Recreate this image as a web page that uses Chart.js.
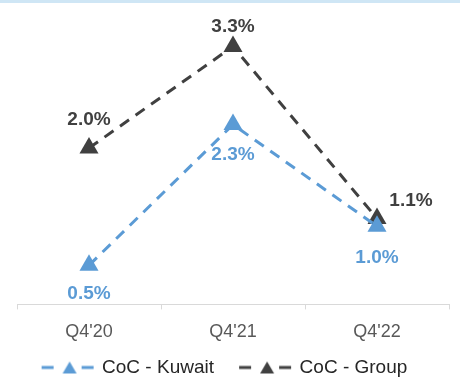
<!DOCTYPE html>
<html>
<head>
<meta charset="utf-8">
<script src="https://cdn.jsdelivr.net/npm/chart.js@4.4.0/dist/chart.umd.min.js"></script>
<style>
  body { margin: 0; background: #fff; overflow: hidden; }
  .wrap { width: 460px; height: 380px; position: relative; overflow: hidden; border-top: 3px solid #cfe6f5; box-sizing: border-box; }
</style>
</head>
<body>
<div class="wrap"><canvas id="myChart" width="460" height="387"></canvas></div>
<script>
// data
const quarters = ["Q4'20", "Q4'21", "Q4'22"];
const cocKuwait = [0.5, 2.3, 1.0];
const cocGroup = [2.0, 3.3, 1.1];

const blue = '#5b9bd5';
const grey = '#404040';
const font = 'Arial, "Liberation Sans", sans-serif';

// legend sample: dashed line with a triangle in the middle
function legendSample(color) {
  const c = document.createElement('canvas');
  c.width = 64; c.height = 14;
  const g = c.getContext('2d');
  g.translate(6, 0);
  g.strokeStyle = color;
  g.lineWidth = 3;
  g.setLineDash([12, 8]);
  g.beginPath(); g.moveTo(1, 7); g.lineTo(58, 7); g.stroke();
  g.clearRect(19, 0, 20, 14);
  g.fillStyle = color;
  g.beginPath(); g.moveTo(29, 1); g.lineTo(36, 13); g.lineTo(22, 13); g.closePath(); g.fill();
  return c;
}

// draws the % labels next to each point
const pointLabels = {
  id: 'pointLabels',
  afterDatasetsDraw(chart, args, opts) {
    const ctx = chart.ctx;
    ctx.save();
    ctx.font = 'bold 19px ' + font;
    ctx.textAlign = 'center';
    ctx.textBaseline = 'middle';
    chart.data.datasets.forEach((ds, i) => {
      const meta = chart.getDatasetMeta(i);
      const offs = opts.offsets[i];
      ctx.fillStyle = ds.borderColor;
      meta.data.forEach((pt, j) => {
        const v = ds.data[j];
        ctx.fillText(v.toFixed(1) + '%', pt.x + offs[j][0], pt.y + offs[j][1]);
      });
    });
    ctx.restore();
  }
};

var ctx = document.getElementById('myChart').getContext('2d');
var chart = new Chart(ctx, {
  type: 'line',
  data: {
    labels: quarters,
    datasets: [{
      label: 'CoC - Kuwait',
      data: cocKuwait,
      borderColor: blue,
      backgroundColor: blue,
      borderWidth: 3,
      borderDash: [11, 8],
      pointStyle: 'triangle',
      pointRadius: 11,
      pointBorderWidth: 0
    }, {
      label: 'CoC - Group',
      data: cocGroup,
      borderColor: grey,
      backgroundColor: grey,
      borderWidth: 3,
      borderDash: [11, 8],
      pointStyle: 'triangle',
      pointRadius: 11,
      pointBorderWidth: 0
    }]
  },
  options: {
    responsive: false,
    animation: false,
    layout: { padding: { left: 17, right: 8, top: 20, bottom: 3 } },
    scales: {
      x: {
        offset: true,
        grid: { display: true, drawOnChartArea: false, offset: true, tickLength: 5, color: '#d9d9d9' },
        border: { color: '#d9d9d9', width: 1 },
        ticks: { color: '#595959', font: { size: 18, family: font }, padding: 12 }
      },
      y: { display: false, min: 0, max: 3.6 }
    },
    plugins: {
      legend: {
        position: 'bottom',
        labels: {
          usePointStyle: true,
          pointStyleWidth: 52,
          boxHeight: 14,
          padding: 3,
          color: '#262626',
          font: { size: 19, family: font },
          generateLabels(chart) {
            return chart.data.datasets.map((ds, i) => ({
              // trailing spaces give the gap between the two entries
              text: ds.label + '    ',
              fontColor: '#262626',
              pointStyle: legendSample(ds.borderColor),
              fillStyle: ds.borderColor,
              strokeStyle: ds.borderColor,
              lineWidth: 0,
              datasetIndex: i
            }));
          }
        }
      },
      tooltip: { enabled: false },
      pointLabels: {
        offsets: [
          [[0, 28], [0, 30], [0, 32]],
          [[0, -28], [0, -20], [34, -18]]
        ]
      }
    }
  },
  plugins: [pointLabels]
});
</script>
</body>
</html>
